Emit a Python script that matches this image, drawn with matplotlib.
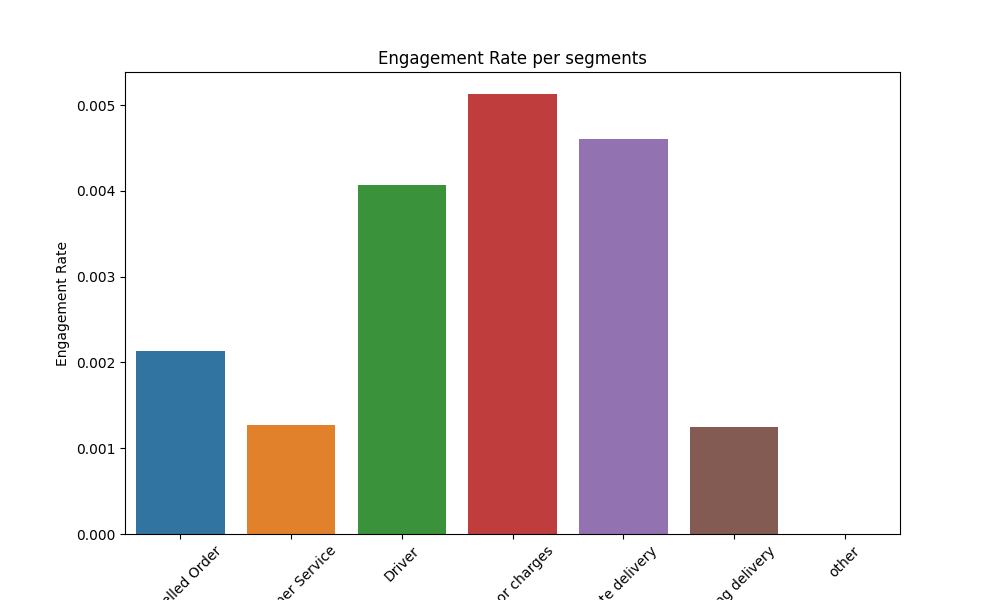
import matplotlib
matplotlib.use("Agg")
import matplotlib.pyplot as plt
import seaborn as sns

categories = ["Cancelled Order", "Customer Service", "Driver", "Fees or charges",
              "Late delivery", "Missing delivery", "other"]
values = [0.00213, 0.00127, 0.00407, 0.00513, 0.00461, 0.00125, 0.0]

fig = plt.figure(figsize=(10, 6), dpi=100)
ax = fig.add_subplot(111)
sns.barplot(x=categories, y=values, hue=categories, palette="tab10", saturation=0.75, legend=False, ax=ax)
ax.set_title("Engagement Rate per segments")
ax.set_ylabel("Engagement Rate")
plt.xticks(rotation=45)
fig.savefig("out.png")
